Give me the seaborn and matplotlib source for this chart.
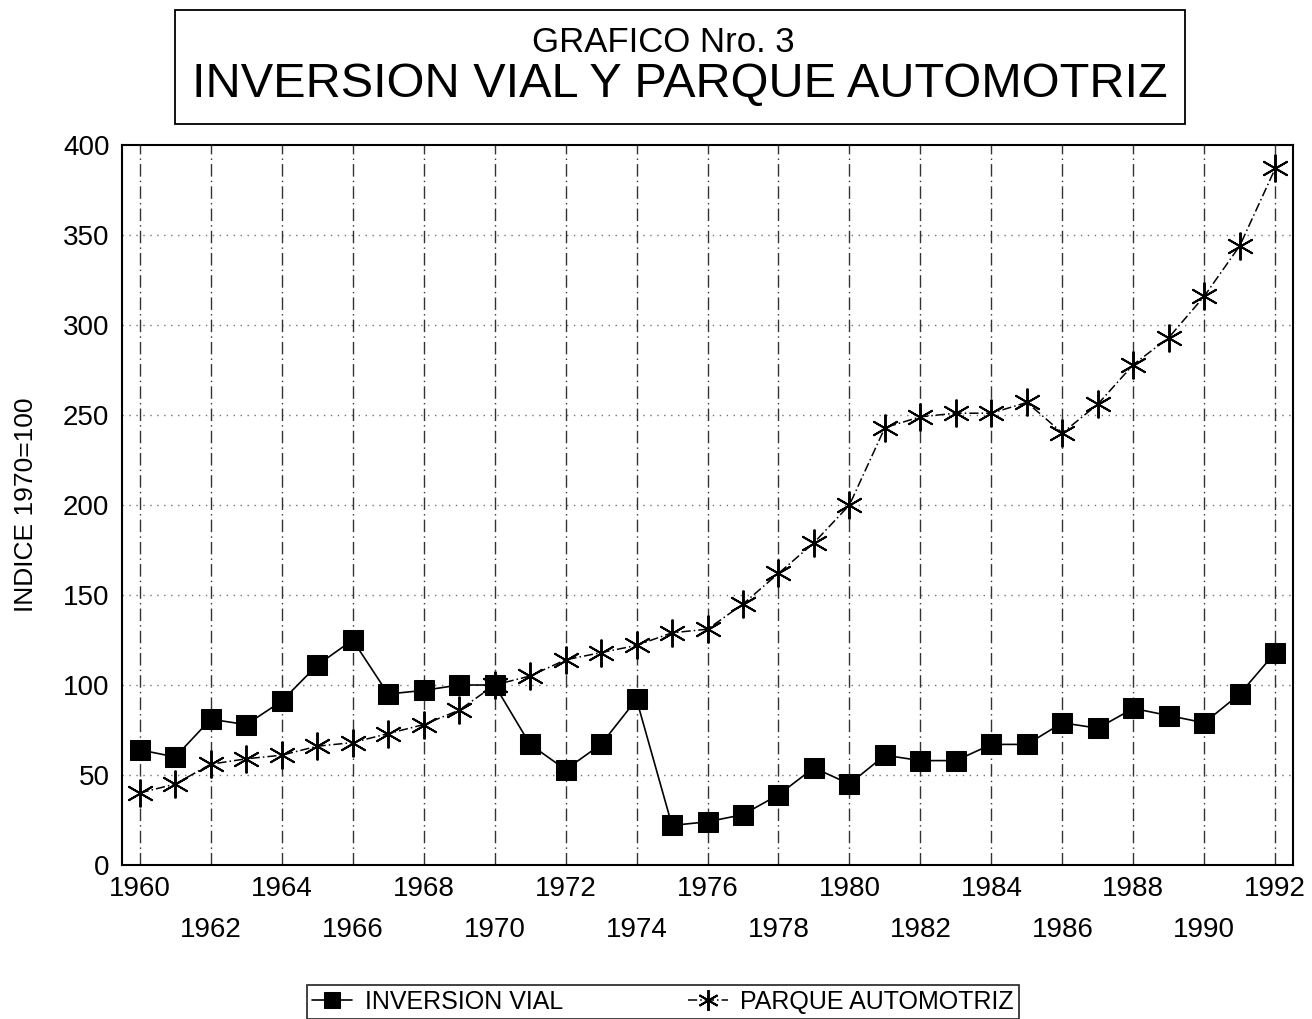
import matplotlib
matplotlib.use("Agg")
import matplotlib.pyplot as plt
import seaborn as sns
import pandas as pd
import numpy as np
from matplotlib.patches import Rectangle

years = list(range(1960, 1993))
inversion_vial = [64, 60, 81, 78, 91, 111, 125, 95, 97, 100,
                  100, 67, 53, 67, 92, 22, 24, 28, 39, 54,
                  45, 61, 58, 58, 67, 67, 79, 76, 87, 83,
                  79, 95, 118]
parque_automotriz = [40, 45, 56, 59, 61, 66, 68, 73, 78, 86,
                     100, 105, 114, 118, 122, 129, 131, 145, 162, 179,
                     200, 243, 249, 251, 251, 257, 240, 256, 278, 293,
                     316, 344, 387]
series_names = ["INVERSION VIAL", "PARQUE AUTOMOTRIZ"]
title_line1 = "GRAFICO Nro. 3"
title_line2 = "INVERSION VIAL Y PARQUE AUTOMOTRIZ"
y_label = "INDICE 1970=100"
y_ticks = [0, 50, 100, 150, 200, 250, 300, 350, 400]

sns.set_theme(style="white")
plt.rcParams['font.family'] = ['Liberation Sans', 'DejaVu Sans']
plt.rcParams['text.color'] = 'black'
plt.rcParams['axes.labelcolor'] = 'black'
plt.rcParams['xtick.color'] = 'black'
plt.rcParams['ytick.color'] = 'black'

W, H = 1312, 1019
fig = plt.figure(figsize=(W / 100, H / 100), dpi=100)
ax = fig.add_axes([122 / W, 1 - 865 / H, (1293 - 122) / W, (865 - 145) / H])

df = pd.DataFrame({"year": years, "vial": inversion_vial, "parque": parque_automotriz})

sns.lineplot(data=df, x="year", y="vial", ax=ax, color="black", linewidth=1.2,
             marker="s", markersize=15, markeredgecolor="black",
             markerfacecolor="black", label=series_names[0], zorder=4)
sns.lineplot(data=df, x="year", y="parque", ax=ax, color="black", linewidth=1.1,
             linestyle=(0, (6, 2, 1, 2)), marker=(6, 2, 0), markersize=20,
             markeredgewidth=1.4, markeredgecolor="black",
             label=series_names[1], zorder=4)

ax.set_xlim(1959.5, 1992.5)
ax.set_ylim(0, 400)

# grid
for yv in y_ticks[1:-1]:
    ax.axhline(yv, color="0.45", linewidth=1.0, linestyle=(0, (1, 4)), zorder=1)
for xv in range(1960, 1993, 2):
    ax.axvline(xv, color="0.2", linewidth=1.0, linestyle=(0, (9, 3, 1, 3)), zorder=1)

# x ticks
ax.set_xticks(years)
labels = []
for yr in years:
    if (yr - 1960) % 4 == 0:
        labels.append(str(yr))
    elif (yr - 1960) % 2 == 0:
        labels.append("\n" + str(yr))
    else:
        labels.append("")
ax.set_xticklabels(labels, fontsize=20)
for lab in ax.get_xticklabels():
    lab.set_linespacing(1.75)
ax.tick_params(axis="x", direction="out", length=7, width=1.2, color="black", pad=1)

ax.set_yticks(y_ticks)
ax.set_yticklabels([str(v) for v in y_ticks], fontsize=20)
ax.tick_params(axis="y", direction="out", length=5, width=1.0, color="black", pad=4)

ax.set_xlabel("")
ax.set_ylabel(y_label, fontsize=19)
ax.yaxis.set_label_coords(-0.072, 0.5)

for sp in ax.spines.values():
    sp.set_color("black")
    sp.set_linewidth(1.5)

# title box
fig.patches.append(Rectangle((175 / W, 1 - 124 / H), (1185 - 175) / W, (124 - 10) / H,
                             transform=fig.transFigure, fill=False,
                             edgecolor="black", linewidth=1.3))
fig.text(663 / W, 1 - 42 / H, title_line1, ha="center", va="center", fontsize=25)
fig.text(680 / W, 1 - 84 / H, title_line2, ha="center", va="center", fontsize=35)

# legend
leg = ax.legend(loc="upper center", bbox_to_anchor=(663 / W, 1 - 985 / H),
                bbox_transform=fig.transFigure, ncol=2, frameon=True,
                fancybox=False, edgecolor="black", fontsize=18,
                handlelength=1.6, handletextpad=0.5, columnspacing=5.0,
                borderpad=0.2, borderaxespad=0, markerscale=0.75)
leg.get_frame().set_linewidth(1.3)

fig.savefig("out.png", dpi=100, facecolor="white")
